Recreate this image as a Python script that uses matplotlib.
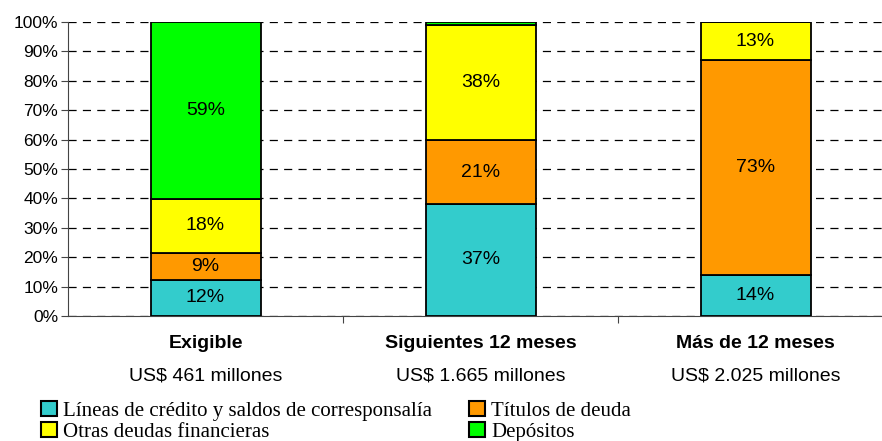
import numpy as np
import matplotlib.pyplot as plt
from matplotlib.patches import Patch

categories = ['Exigible', 'Siguientes 12 meses', 'Más de 12 meses']
totals = ['US$ 461 millones', 'US$ 1.665 millones', 'US$ 2.025 millones']

series = ['Líneas de crédito y saldos de corresponsalía', 'Títulos de deuda',
          'Otras deudas financieras', 'Depósitos']
colors = ['#33CCCC', '#FF9900', '#FFFF00', '#00FF00']

lineas = [12, 37, 14]
titulos = [9, 21, 73]
otras = [18, 38, 13]
depositos = [59, 1, 0]

data = np.array([lineas, titulos, otras, depositos], dtype=float)
shares = data / data.sum(axis=0) * 100  # 100% stacked

fig = plt.figure(figsize=(8.82, 4.41), dpi=100)
ax = fig.add_axes([68 / 882, 125 / 441, 814 / 882, 294 / 441])

x = np.arange(len(categories))
bottom = np.zeros(len(categories))
for i, name in enumerate(series):
    ax.bar(x, shares[i], 0.4, bottom=bottom, color=colors[i],
           edgecolor='black', linewidth=1.3, zorder=3)
    for j in range(len(categories)):
        if data[i, j] >= 5:
            ax.text(x[j], bottom[j] + shares[i, j] / 2, f'{int(data[i, j])}%',
                    ha='center', va='center', fontsize=14,
                    family='Liberation Sans', zorder=4)
    bottom += shares[i]

ax.set_ylim(0, 100)
ax.set_xlim(-0.5, -0.5 + 814 / 275)
ax.set_yticks(np.arange(0, 101, 10))
ax.set_yticklabels([f'{v}%' for v in range(0, 101, 10)], family='Liberation Sans', fontsize=12.5)
ax.yaxis.grid(True, linestyle=(0, (6.5, 5)), color='black', linewidth=0.9, zorder=0)
ax.set_axisbelow(True)

ax.set_xticks([0.5, 1.5])
ax.set_xticklabels([])
ax.tick_params(axis='both', direction='out', length=5, color='#444444', pad=2)
for s in ['top', 'right']:
    ax.spines[s].set_visible(False)
ax.spines['left'].set_color('#444444')
ax.spines['bottom'].set_color('#444444')

trans = ax.get_xaxis_transform()
for j, (cat, tot) in enumerate(zip(categories, totals)):
    ax.text(x[j], -0.095, cat, transform=trans, ha='center', va='center',
            fontsize=14, fontweight='bold', family='Liberation Sans')
    ax.text(x[j], -0.205, tot, transform=trans, ha='center', va='center',
            fontsize=14, family='Liberation Sans')

order = [0, 2, 1, 3]
handles = [Patch(facecolor=colors[k], edgecolor='black', linewidth=1.5) for k in order]
labels = [series[k] for k in order]
fig.legend(handles, labels, ncol=2, loc='lower left', bbox_to_anchor=(0.03, -0.035),
           frameon=False, prop={'family': 'Liberation Serif', 'size': 15},
           handlelength=0.75, handleheight=0.75, handletextpad=0.3,
           labelspacing=0.05, columnspacing=1.8, borderpad=0.2)

fig.savefig('out.png', dpi=100)
